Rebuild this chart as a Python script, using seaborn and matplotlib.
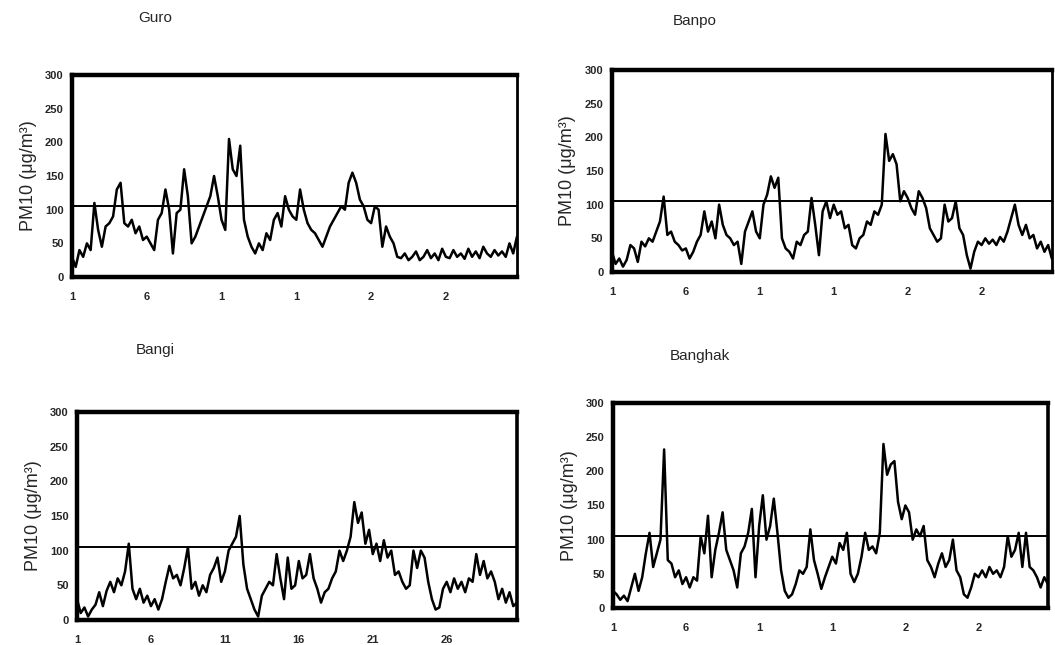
import numpy as np
import pandas as pd
import matplotlib
matplotlib.use("Agg")
import matplotlib.pyplot as plt
import seaborn as sns

# ---- data (PM10, 6-hourly samples) ----
guro = [30, 15, 40, 30, 50, 40, 110, 70, 45, 75, 80, 90, 130, 140, 80, 75, 85, 65, 75, 55,
        60, 50, 40, 85, 95, 130, 100, 35, 95, 100, 160, 120, 50, 60, 75, 90, 105, 120, 150, 120,
        85, 70, 205, 160, 150, 195, 85, 60, 45, 35, 50, 40, 65, 55, 85, 95, 75, 120, 100, 90,
        85, 130, 100, 80, 70, 65, 55, 45, 60, 75, 85, 95, 105, 100, 140, 155, 140, 115, 105, 85,
        80, 105, 100, 45, 75, 60, 50, 30, 28, 35, 25, 30, 38, 25, 30, 40, 28, 35, 25, 42,
        30, 28, 40, 30, 35, 27, 42, 30, 38, 28, 45, 35, 30, 40, 32, 38, 30, 50, 35, 60]

banpo = [30, 12, 20, 8, 18, 40, 35, 15, 45, 38, 50, 45, 60, 75, 112, 55, 60, 45, 40, 32,
         35, 20, 30, 45, 55, 90, 60, 75, 50, 100, 70, 55, 50, 40, 45, 12, 60, 75, 90, 60,
         50, 100, 115, 142, 125, 140, 50, 35, 30, 20, 45, 40, 55, 60, 110, 70, 25, 90, 105, 80,
         100, 85, 90, 65, 70, 40, 35, 50, 55, 75, 70, 90, 85, 100, 205, 165, 175, 160, 105, 120,
         110, 95, 85, 120, 110, 95, 65, 55, 45, 50, 100, 75, 80, 105, 65, 55, 25, 5, 30, 45,
         40, 50, 42, 48, 40, 52, 45, 60, 80, 100, 70, 55, 70, 50, 55, 35, 45, 30, 40, 20]

bangi = [30, 10, 18, 5, 15, 22, 40, 20, 42, 55, 40, 60, 50, 70, 110, 45, 30, 45, 25, 35,
         20, 30, 15, 30, 55, 78, 60, 65, 50, 75, 105, 45, 55, 35, 50, 40, 65, 75, 90, 55,
         70, 100, 110, 120, 150, 80, 45, 30, 15, 5, 35, 45, 55, 50, 95, 60, 30, 90, 45, 50,
         85, 60, 65, 95, 60, 45, 25, 40, 45, 60, 70, 100, 85, 100, 120, 170, 140, 155, 110, 130,
         95, 110, 85, 115, 90, 100, 65, 70, 55, 45, 50, 100, 75, 100, 90, 55, 30, 15, 18, 45,
         55, 40, 60, 45, 55, 40, 60, 55, 95, 65, 85, 60, 70, 55, 30, 45, 25, 40, 20, 25]

banghak = [25, 20, 12, 18, 10, 30, 50, 25, 45, 80, 110, 60, 80, 100, 232, 70, 65, 45, 55, 35,
           45, 30, 45, 40, 105, 80, 135, 45, 85, 110, 140, 85, 70, 55, 30, 80, 90, 110, 145, 45,
           120, 165, 100, 120, 160, 110, 55, 25, 15, 20, 35, 55, 50, 60, 115, 70, 50, 28, 45, 60,
           75, 65, 95, 85, 110, 50, 38, 50, 75, 110, 85, 90, 80, 110, 240, 195, 210, 215, 155, 130,
           150, 140, 100, 115, 105, 120, 70, 60, 45, 65, 80, 60, 70, 100, 55, 45, 20, 15, 30, 50,
           45, 55, 45, 60, 50, 55, 45, 60, 105, 75, 85, 110, 60, 110, 60, 55, 45, 30, 45, 35]

stations = ["Guro", "Banpo", "Bangi", "Banghak"]
series = [guro, banpo, bangi, banghak]
tick_days = [1, 6, 11, 16, 21, 26]
tick_labels_short = ["1", "6", "1", "1", "2", "2"]
tick_labels_full = ["1", "6", "11", "16", "21", "26"]
standard = 105

days = 1 + np.arange(120) / 4.0

sns.set_style("white")
plt.rcParams["font.family"] = ["Liberation Sans", "DejaVu Sans"]

fig = plt.figure(figsize=(10.55, 6.45), dpi=100)

# axes rects [left, bottom, width, height] in figure fraction
rects = [
    [0.0682, 0.5705, 0.4218, 0.3132],
    [0.5800, 0.5783, 0.4170, 0.3132],
    [0.0730, 0.0388, 0.4170, 0.3225],
    [0.5810, 0.0574, 0.4123, 0.3178],
]
title_pos = [(155, 18), (695, 21), (155, 350), (700, 356)]
xlabels = [tick_labels_short, tick_labels_short, tick_labels_full, tick_labels_short]

for k in range(4):
    ax = fig.add_axes(rects[k])
    df = pd.DataFrame({"day": days, "pm10": series[k]})
    sns.lineplot(data=df, x="day", y="pm10", color="black", linewidth=1.8, ax=ax)
    ax.axhline(standard, color="black", linewidth=1.4)
    ax.set_xlim(1, days[-1])
    ax.set_ylim(0, 300)
    ax.set_yticks(range(0, 301, 50))
    ax.set_yticklabels([str(v) for v in range(0, 301, 50)], fontsize=8, fontweight="bold")
    ax.set_xticks(tick_days)
    ax.set_xticklabels(xlabels[k], fontsize=8, fontweight="bold")
    ax.tick_params(axis="both", length=0)
    ax.tick_params(axis="x", pad=11)
    ax.tick_params(axis="y", pad=6)
    ax.set_xlabel("")
    ax.set_ylabel("PM10 (μg/m³)", fontsize=13, labelpad=6)
    for side in ["left", "top", "bottom"]:
        ax.spines[side].set_linewidth(3.2)
        ax.spines[side].set_color("black")
    ax.spines["right"].set_linewidth(2.0 if k < 2 else 2.6)
    ax.spines["right"].set_color("black")
    ax.grid(False)
    tx, ty = title_pos[k]
    fig.text(tx / 1055, 1 - ty / 645, stations[k], ha="center", va="center", fontsize=11)

fig.savefig("out.png", dpi=100)
